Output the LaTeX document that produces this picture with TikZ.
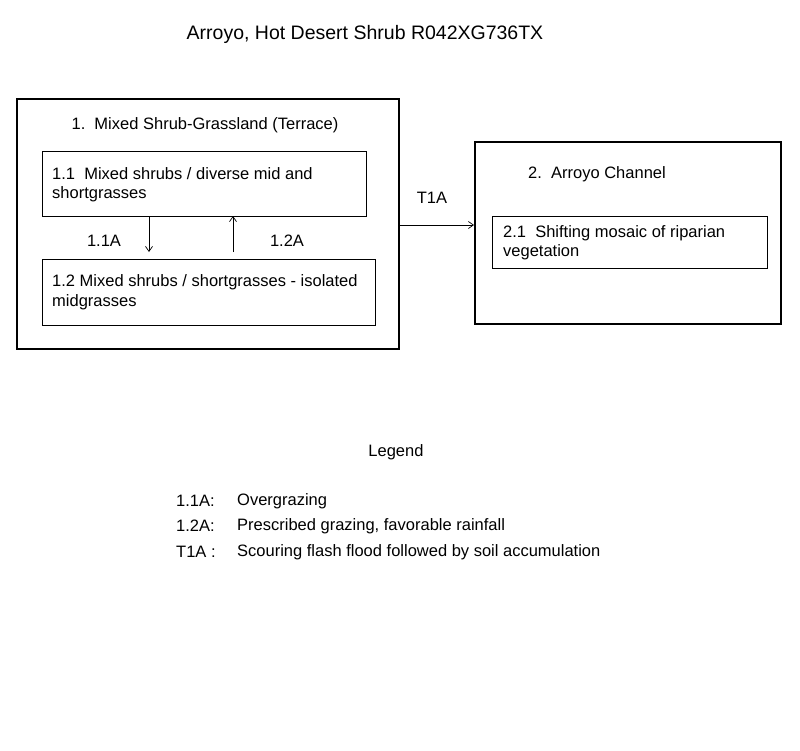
\documentclass[tikz,border=0pt]{standalone}
\usepackage{fontspec}
\setmainfont{Liberation Sans}
\usetikzlibrary{arrows.meta}
\begin{document}
\begin{tikzpicture}[x=1pt,y=-1pt,
  txt/.style={font=\fontsize{16.5}{20}\selectfont,inner sep=0pt},
  lft/.style={txt,anchor=west},
  bx/.style={draw,line width=0.8pt},
  obx/.style={draw,line width=1.8pt},
  arr/.style={-{Straight Barb[length=5pt,width=7pt]},line width=0.7pt}]
\useasboundingbox (0,0) rectangle (800,750);
\node[txt,font=\fontsize{19.5}{22}\selectfont] (title) at (365,34) {Arroyo, Hot Desert Shrub R042XG736TX};
\draw[obx] (17,99) rectangle (399,349);
\node[txt] (t1) at (205,125) {1.\ \ Mixed Shrub-Grassland\ (Terrace)};
\node[bx,minimum width=324pt,minimum height=65pt,anchor=north west,inner sep=0pt] (b11) at (42,151) {};
\node[lft] (t11a) at (52,174) {1.1\ \ Mixed shrubs / diverse mid and};
\node[lft] (t11b) at (52,194) {shortgrasses};
\node[bx,minimum width=333pt,minimum height=66pt,anchor=north west,inner sep=0pt] (b12) at (42,259) {};
\node[lft] (t12a) at (52,282) {1.2 Mixed shrubs / shortgrasses - isolated};
\node[lft] (t12b) at (52,302) {midgrasses};
\coordinate (d1) at (149,216); \coordinate (d2) at (149,252);
\coordinate (u1) at (233,252); \coordinate (u2) at (233,216);
\draw[arr] (d1) -- (d2);
\draw[arr] (u1) -- (u2);
\node[txt] (l11) at (104,241) {1.1A};
\node[txt] (l12) at (287,241) {1.2A};
\node[obx,minimum width=306pt,minimum height=182pt,anchor=north west,inner sep=0pt] (b2) at (474,141) {};
\node[txt] (t2) at (597,174) {2.\ \ Arroyo Channel};
\node[bx,minimum width=275pt,minimum height=52pt,anchor=north west,inner sep=0pt] (b21) at (492,216) {};
\node[lft] (t21a) at (503,233) {2.1\ \ Shifting mosaic of riparian};
\node[lft] (t21b) at (503,252) {vegetation};
\coordinate (ta) at (400,225);
\draw[arr] (ta) -- (b2.west |- ta);
\node[txt] (lt) at (432,198) {T1A};
\node[txt] (leg) at (396,452) {Legend};
\node[lft] (k1) at (176,501) {1.1A:};
\node[lft] (v1) at (237,501) {Overgrazing};
\node[lft] (k2) at (176,526) {1.2A:};
\node[lft] (v2) at (237,526) {Prescribed grazing, favorable rainfall};
\node[lft] (k3) at (176,552) {T1A\ :};
\node[lft] (v3) at (237,552) {Scouring flash flood followed by soil accumulation};
\end{tikzpicture}
\end{document}
